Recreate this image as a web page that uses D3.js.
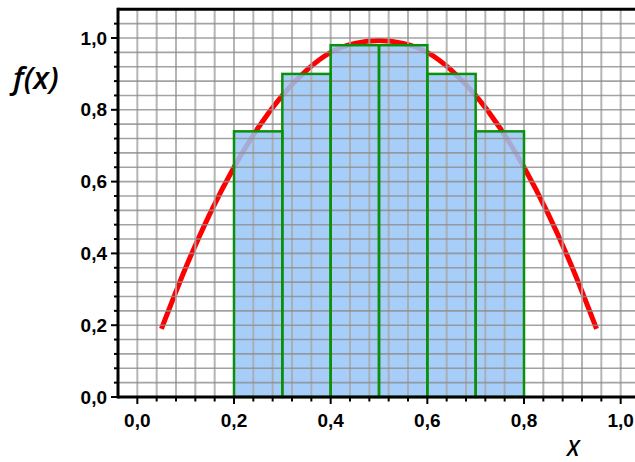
<!DOCTYPE html>
<html>
<head>
<meta charset="utf-8">
<script src="https://cdnjs.cloudflare.com/ajax/libs/d3/7.8.5/d3.min.js"></script>
<style>
  body { margin: 0; background: #fff; }
  svg { display: block; }
</style>
</head>
<body>
<div id="chart"></div>
<script>
// histogram bins (left edge, right edge, height)
const binStart = [0.2, 0.3, 0.4, 0.5, 0.6, 0.7];
const binEnd   = [0.3, 0.4, 0.5, 0.6, 0.7, 0.8];
const binValue = [0.74, 0.90, 0.98, 0.98, 0.90, 0.74];

// density curve
const curveX = [0.05, 0.10, 0.15, 0.20, 0.25, 0.30, 0.35, 0.40, 0.45, 0.50, 0.55, 0.60, 0.65, 0.70, 0.75, 0.80, 0.85, 0.90, 0.95];
const curveY = [0.19, 0.36, 0.51, 0.64, 0.75, 0.84, 0.91, 0.96, 0.985, 0.993, 0.985, 0.96, 0.91, 0.84, 0.75, 0.64, 0.51, 0.36, 0.19];

const xTickLabels = ['0,0', '0,2', '0,4', '0,6', '0,8', '1,0'];
const yTickLabels = ['0,0', '0,2', '0,4', '0,6', '0,8', '1,0'];

const width = 635, height = 462;

const x = d3.scaleLinear().domain([-0.04, 1.04]).range([118, 640]);
const y = d3.scaleLinear().domain([0, 1.08]).range([397, 9.3]);

const svg = d3.select('#chart')
.append('svg')
.attr('width', width)
.attr('height', height);

const minor = d3.range(0, 27).map(i => Math.round((-0.04 + i * 0.04) * 100) / 100);
const minorY = d3.range(1, 27).map(i => Math.round(i * 4) / 100);

const isMajor = d => Math.abs(d * 5 - Math.round(d * 5)) < 1e-6;

// red curve first, bars wash over it
const line = d3.line()
.x((d, i) => x(curveX[i]))
.y(d => y(d))
.curve(d3.curveMonotoneX);

svg.append('path')
.attr('d', line(curveY))
.attr('fill', 'none')
.attr('stroke', '#ff0000')
.attr('stroke-width', 5)
.attr('stroke-linecap', 'butt');

svg.append('g')
.selectAll('rect')
.data(binValue)
.enter()
.append('rect')
.attr('x', (d, i) => x(binStart[i]))
.attr('width', (d, i) => x(binEnd[i]) - x(binStart[i]))
.attr('y', d => y(d))
.attr('height', d => y(0) - y(d))
.attr('fill', 'rgb(152,198,248)')
.attr('fill-opacity', 0.86);

// grid on top
const grid = svg.append('g');
grid.selectAll('.vg')
.data(minor.filter(v => v > -0.04))
.enter()
.append('line')
.attr('x1', d => x(d)).attr('x2', d => x(d))
.attr('y1', y(1.08)).attr('y2', y(0))
.attr('stroke', '#a8a8a8')
.attr('stroke-opacity', 0.85)
.attr('stroke-width', 2);

grid.selectAll('.hg')
.data(minorY.filter(v => v < 1.08))
.enter()
.append('line')
.attr('x1', x(-0.04)).attr('x2', x(1.04))
.attr('y1', d => y(d)).attr('y2', d => y(d))
.attr('stroke', '#8c8c8c')
.attr('stroke-opacity', 0.8)
.attr('stroke-width', 1.6);

// bar outlines
svg.append('g')
.selectAll('rect')
.data(binValue)
.enter()
.append('rect')
.attr('x', (d, i) => x(binStart[i]))
.attr('width', (d, i) => x(binEnd[i]) - x(binStart[i]))
.attr('y', d => y(d))
.attr('height', d => y(0) - y(d))
.attr('fill', 'none')
.attr('stroke', '#0a900a')
.attr('stroke-width', 2.5);

// x axis
const ax = svg.append('g').attr('transform', `translate(0,${y(0)})`);
ax.append('line')
.attr('x1', x(-0.04)).attr('x2', width)
.attr('stroke', '#000').attr('stroke-width', 3);
ax.selectAll('.t')
.data(minor.filter(v => v >= 0 && v <= 1.0001))
.enter()
.append('line')
.attr('x1', d => x(d)).attr('x2', d => x(d))
.attr('y1', 0)
.attr('y2', d => isMajor(d) ? 7 : 4.5)
.attr('stroke', '#000').attr('stroke-width', 2);
ax.selectAll('.lbl')
.data(xTickLabels)
.enter()
.append('text')
.attr('x', (d, i) => x(i * 0.2))
.attr('y', 30)
.attr('text-anchor', 'middle')
.style('font-family', 'Liberation Sans, Arial, sans-serif')
.style('font-weight', 'bold')
.style('font-size', '19px')
.text(d => d);

// y axis
const ay = svg.append('g').attr('transform', `translate(${x(-0.04)},0)`);
ay.append('line')
.attr('y1', y(1.08) - 1.5).attr('y2', y(0) + 1.5)
.attr('stroke', '#000').attr('stroke-width', 3);
ay.selectAll('.t')
.data([0].concat(minorY.filter(v => v < 1.07)))
.enter()
.append('line')
.attr('y1', d => y(d)).attr('y2', d => y(d))
.attr('x1', 0)
.attr('x2', d => isMajor(d) ? -7 : -4)
.attr('stroke', '#000').attr('stroke-width', 2);
ay.selectAll('.lbl')
.data(yTickLabels)
.enter()
.append('text')
.attr('x', -11)
.attr('y', (d, i) => y(i * 0.2))
.attr('dy', '0.35em')
.attr('text-anchor', 'end')
.style('font-family', 'Liberation Sans, Arial, sans-serif')
.style('font-weight', 'bold')
.style('font-size', '19px')
.text(d => d);

// top frame line
svg.append('line')
.attr('x1', x(-0.04)).attr('x2', width)
.attr('y1', y(1.08)).attr('y2', y(1.08))
.attr('stroke', '#000').attr('stroke-width', 3);

// axis titles
svg.append('text')
.attr('x', 13)
.attr('y', 89)
.style('font-family', 'Open Sans, sans-serif')
.style('font-style', 'italic')
.style('font-weight', '600')
.style('font-size', '31px')
.text('f(x)');

svg.append('text')
.attr('x', 567)
.attr('y', 456)
.style('font-family', 'Open Sans, sans-serif')
.style('font-style', 'italic')
.style('font-weight', '600')
.style('font-size', '21.5px')
.text('X');
</script>
</body>
</html>
